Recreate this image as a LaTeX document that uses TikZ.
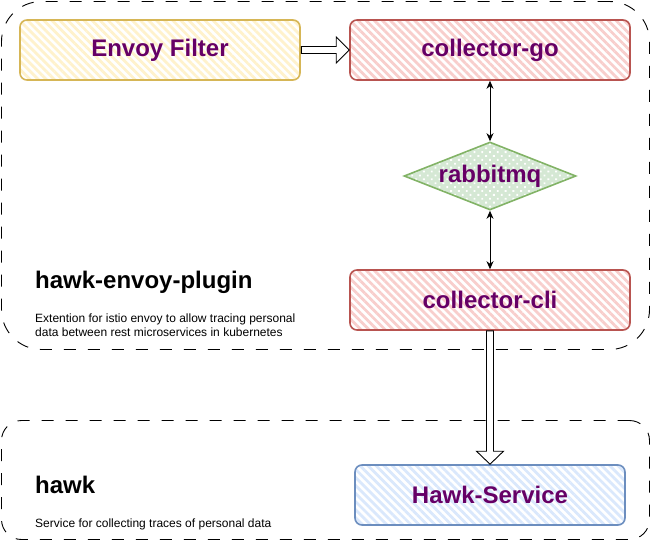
\documentclass[tikz,border=0pt]{standalone}
\usepackage{fontspec}
\setmainfont{Liberation Sans}
\usetikzlibrary{shapes.geometric,arrows.meta,patterns.meta,calc}
\definecolor{labelpurple}{HTML}{660066}
\definecolor{yellowline}{HTML}{D6B656}
\definecolor{yellowfill}{HTML}{FFF2CC}
\definecolor{redline}{HTML}{B85450}
\definecolor{redfill}{HTML}{F8CECC}
\definecolor{blueline}{HTML}{6C8EBF}
\definecolor{bluefill}{HTML}{DAE8FC}
\definecolor{greenline}{HTML}{82B366}
\definecolor{greenfill}{HTML}{D5E8D4}
\begin{document}
\begin{tikzpicture}[x=1pt,y=-1pt,
	groupbox/.style={draw,dash pattern=on 12pt off 12pt,line width=0.9pt,inner sep=0pt},
	box/.style={draw,line width=1.6pt,rounded corners=7pt,minimum width=280pt,minimum height=60pt,
		inner sep=0pt,text=labelpurple,font=\bfseries\fontsize{24}{28}\selectfont,
		pattern={Lines[angle=-45,distance=5.7pt,line width=2.8pt]}},
	grouptitle/.style={anchor=base west,inner sep=0pt,font=\bfseries\fontsize{24}{28}\selectfont},
	groupdesc/.style={anchor=base west,inner sep=0pt,align=left,font=\fontsize{12}{14}\selectfont},
	biarrow/.style={line width=0.8pt,{Stealth[length=8pt,width=7pt]}-{Stealth[length=8pt,width=7pt]}},
	blockarrow/.style={draw,line width=0.9pt,fill=white,line join=miter}]
	\useasboundingbox (0,0) rectangle (651,541);

	% groups
	\node[groupbox,rounded corners=40pt,minimum width=648pt,minimum height=348pt] (plugingroup) at (325.5,175.5) {};
	\node[groupbox,rounded corners=20pt,minimum width=648pt,minimum height=119pt] (hawkgroup) at (325.5,480) {};
	\node[grouptitle] (plugintitle) at (35,288) {hawk-envoy-plugin};
	\node[groupdesc] (plugindesc) at (35,336) {Extention for istio envoy to allow tracing personal\\data between rest microservices in kubernetes};
	\node[grouptitle] (hawktitle) at (35,493) {hawk};
	\node[groupdesc] (hawkdesc) at (35,527) {Service for collecting traces of personal data};

	% components
	\node[box,draw=yellowline,pattern color=yellowfill] (filter) at (160,50) {Envoy Filter};
	\node[box,draw=redline,pattern color=redfill] (go) at (490,50) {collector-go};
	\node[draw=greenline,line width=1.6pt,diamond,aspect=2.5,minimum width=172pt,minimum height=68pt,inner sep=0pt,
		preaction={fill=greenfill},pattern={Dots[distance=5.5pt,radius=1.3pt,angle=45]},pattern color=white,
		text=labelpurple,font=\bfseries\fontsize{24}{28}\selectfont] (rabbit) at (490,176) {rabbitmq};
	\node[box,draw=redline,pattern color=redfill] (cli) at (490,300) {collector-cli};
	\node[box,draw=blueline,pattern color=bluefill,minimum width=270pt] (service) at (490,495) {Hawk-Service};

	% connections
	\draw[biarrow] (go.south) -- (rabbit.north);
	\draw[biarrow] (rabbit.south) -- (cli.north);
	\draw[blockarrow] ($(filter.east)+(0,-3.5)$) -- ($(go.west)+(-13,-3.5)$) -- ($(go.west)+(-13,-13)$) -- (go.west)
		-- ($(go.west)+(-13,13)$) -- ($(go.west)+(-13,3.5)$) -- ($(filter.east)+(0,3.5)$) -- cycle;
	\draw[blockarrow] ($(cli.south)+(-3.5,0)$) -- ($(service.north)+(-3.5,-13)$) -- ($(service.north)+(-13.5,-13)$) -- (service.north)
		-- ($(service.north)+(13.5,-13)$) -- ($(service.north)+(3.5,-13)$) -- ($(cli.south)+(3.5,0)$) -- cycle;
\end{tikzpicture}
\end{document}
